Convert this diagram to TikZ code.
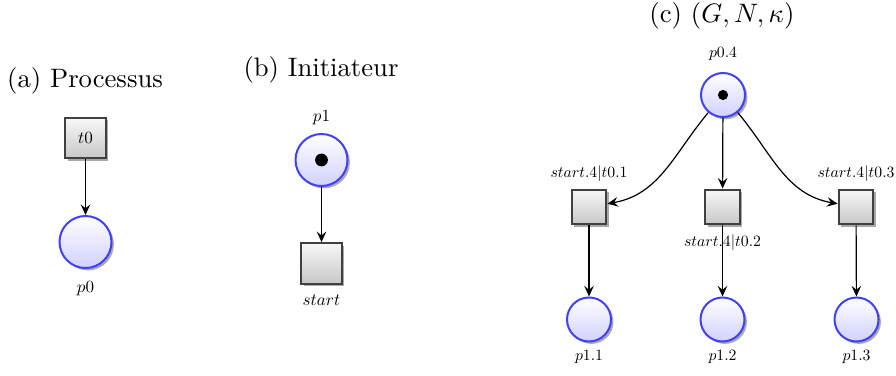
\documentclass[tikz,border=0pt]{standalone}
\usetikzlibrary{shadows,arrows.meta}
\newcommand{\lbla}[1]{\scalebox{0.64}{$#1$}}
\newcommand{\lblc}[1]{\scalebox{0.59}{$#1$}}
\begin{document}
\begin{tikzpicture}[x=0.375pt,y=-0.375pt,
  lbl/.style={font=\fontsize{10}{12}\selectfont,inner sep=1.2pt},
  titlefont/.style={font=\fontsize{10}{12}\selectfont},
  myshadow/.style={drop shadow={shadow xshift=0.9pt,shadow yshift=-0.9pt,fill=black!45,opacity=0.75}},
  place/.style={circle,draw=blue!75,line width=0.75pt,top color=white,bottom color=blue!18,myshadow,inner sep=0pt,minimum size=19.5pt},
  splace/.style={place,minimum size=16.5pt},
  trans/.style={rectangle,draw=black!75,line width=0.8pt,top color=black!3,bottom color=black!22,myshadow,inner sep=0pt,minimum size=15.2pt},
  strans/.style={trans,minimum size=13pt},
  token/.style={circle,fill=black,inner sep=0pt,minimum size=4.8pt},
  stoken/.style={token,minimum size=3.8pt},
  arc/.style={-{Stealth[length=4pt,width=3.6pt,inset=1.5pt]},line width=0.45pt}]
\useasboundingbox (0,0) rectangle (896,376);

% (a)
\node[titlefont] (ta) at (85,81) {(a) Processus};
\node[trans,lbl] (t0) at (85.5,138) {\lbla{t0}};
\node[place,label={[lbl,label distance=3.3pt]below:\lbla{p0}}] (p0) at (85.5,242) {};
\draw[arc] (t0) -- (p0);

% (b)
\node[titlefont] (tb) at (321,70) {(b) Initiateur};
\node[place,label={[lbl,label distance=1.8pt]above:\lbla{p1}}] (p1) at (321.5,160) {};
\node[token] (k1) at (p1) {};
\node[trans,label={[lbl,label distance=2.6pt]below:\lbla{start}}] (st) at (321.5,263.5) {};
\draw[arc] (p1) -- (st);

% (c)
\node[titlefont] (tc) at (722,16) {(c) $(G,N,\kappa)$};
\node[splace,label={[lbl,label distance=3pt]above:\lblc{p0.4}}] (p04) at (723,95) {};
\node[stoken] (k2) at (p04) {};
\node[strans,label={[lbl,label distance=1.3pt]above:\lblc{start.4|t0.1}}] (b1) at (589,207) {};
\node[strans,label={[lbl,label distance=2pt]below:\lblc{start.4|t0.2}}] (b2) at (722.5,207) {};
\node[strans,label={[lbl,label distance=1.3pt]above:\lblc{start.4|t0.3}}] (b3) at (856,207) {};
\node[splace,label={[lbl,label distance=1.5pt]below:\lblc{p1.1}}] (c1) at (589,319.5) {};
\node[splace,label={[lbl,label distance=1.5pt]below:\lblc{p1.2}}] (c2) at (722.5,319.5) {};
\node[splace,label={[lbl,label distance=1.5pt]below:\lblc{p1.3}}] (c3) at (856.5,319.5) {};
\draw[arc] (p04) to[out=-130,in=10] (b1);
\draw[arc] (p04) -- (b2);
\draw[arc] (p04) to[out=-50,in=170] (b3);
\draw[arc] (b1) -- (c1);
\draw[arc] (b2) -- (c2);
\draw[arc] (b3) -- (c3);
\end{tikzpicture}
\end{document}
